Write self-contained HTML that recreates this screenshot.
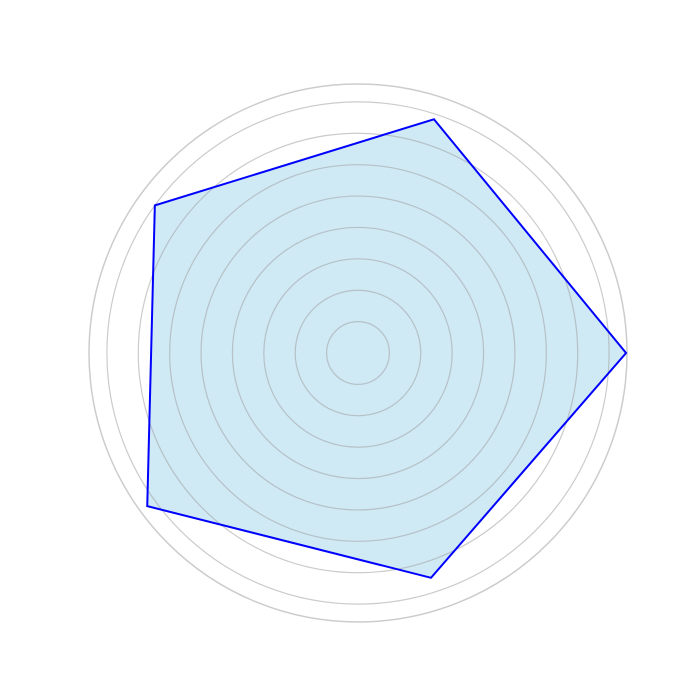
<!DOCTYPE html>
<html>
<head>
<meta charset="utf-8">
<style>
html,body{margin:0;padding:0;background:#fff;}
svg{display:block;}
</style>
</head>
<body>
<svg id="chart" width="700" height="700" xmlns="http://www.w3.org/2000/svg"></svg>
<script>
const categories = ["A", "B", "C", "D", "E"];
const values = [8.54, 7.83, 8.0, 8.3, 7.53];
const ringTicks = [1, 2, 3, 4, 5, 6, 7, 8];
const axisMax = 8.57;

const NS = "http://www.w3.org/2000/svg";
const svg = document.getElementById("chart");
const cx = 358, cy = 353, R = 269;
function rScale(v){ return v / axisMax * R; }
function angle(i){ return -i * 2 * Math.PI / categories.length; }
function pt(i, v){ const r = rScale(v), a = angle(i); return [cx + r*Math.cos(a), cy + r*Math.sin(a)]; }

// fill
const pts = values.map((v,i)=>pt(i,v).join(",")).join(" ");
const fill = document.createElementNS(NS,"polygon");


fill.setAttribute("points", pts);
fill.setAttribute("fill", "#cfe9f5");
svg.appendChild(fill);

// rings
ringTicks.forEach(t=>{
  const c = document.createElementNS(NS,"circle");
  
  
  c.setAttribute("cx", cx); c.setAttribute("cy", cy); c.setAttribute("r", rScale(t));
  c.setAttribute("fill", "none"); c.setAttribute("stroke", "rgba(160,160,160,0.55)"); c.setAttribute("stroke-width", "1.2");
  svg.appendChild(c);
});
const outer = document.createElementNS(NS,"circle");


outer.setAttribute("cx", cx); outer.setAttribute("cy", cy); outer.setAttribute("r", R);
outer.setAttribute("fill", "none"); outer.setAttribute("stroke", "#cccccc"); outer.setAttribute("stroke-width", "1.5");
svg.appendChild(outer);

// line
const line = document.createElementNS(NS,"polygon");


line.setAttribute("points", pts);
line.setAttribute("fill", "none");
line.setAttribute("stroke", "#0000ff");
line.setAttribute("stroke-width", "2");
svg.appendChild(line);
</script>
</body>
</html>
